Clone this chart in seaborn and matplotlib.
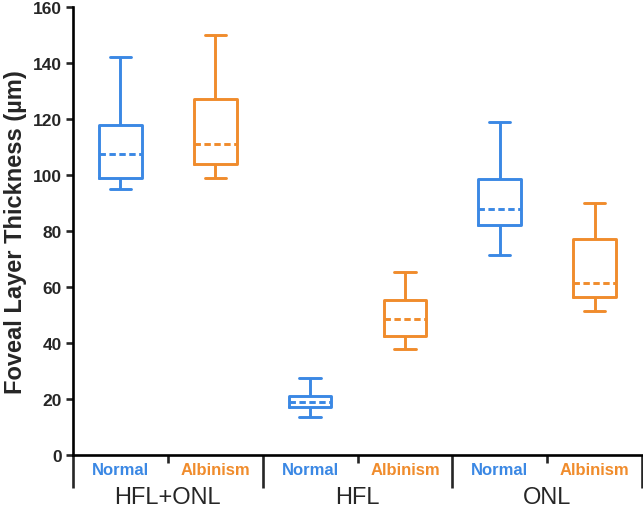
import numpy as np
import pandas as pd
import matplotlib
matplotlib.use("Agg")
import matplotlib.pyplot as plt
import seaborn as sns

LAYERS = ["HFL+ONL", "HFL", "ONL"]
GROUPS = ["Normal", "Albinism"]
COLORS = {"Normal": "#3b88e4", "Albinism": "#f08c2c"}

# five-number summaries: low whisker, Q1, median, Q3, high whisker
normal_stats = [
    [95.0, 99.0, 107.5, 118.0, 142.0],
    [13.5, 17.0, 19.0, 21.0, 27.5],
    [71.5, 82.0, 88.0, 98.5, 119.0],
]
albinism_stats = [
    [99.0, 104.0, 111.0, 127.0, 150.0],
    [38.0, 42.5, 48.5, 55.5, 65.5],
    [51.5, 56.5, 61.5, 77.0, 90.0],
]
y_ticks = [0, 20, 40, 60, 80, 100, 120, 140, 160]

rows = []
order = []
for i, layer in enumerate(LAYERS):
    for group, stats in (("Normal", normal_stats[i]), ("Albinism", albinism_stats[i])):
        key = f"{layer} {group}"
        order.append(key)
        for v in stats:
            rows.append({"key": key, "group": group, "value": v})
df = pd.DataFrame(rows)

sns.set_style("ticks")
plt.rcParams["font.family"] = ["Liberation Sans", "DejaVu Sans"]

fig = plt.figure(figsize=(6.43, 5.10), dpi=100)
ax = fig.add_axes([73 / 643, 54 / 510, 569 / 643, 448 / 510])

sns.boxplot(data=df, x="key", y="value", hue="group", order=order,
            palette=COLORS, dodge=False, fill=False, width=0.45,
            whis=(0, 100), linewidth=2.1, legend=False,
            medianprops={"linestyle": (0, (2.2, 1.2))}, ax=ax)

ax.set_xlim(-0.5, 5.5)
ax.set_ylim(0, 160)
ax.set_yticks(y_ticks)
ax.set_xlabel("")
ax.set_ylabel("Foveal Layer Thickness (µm)", fontsize=17,
              fontweight="bold", labelpad=4)

for side in ("top", "right"):
    ax.spines[side].set_visible(False)
for side in ("left", "bottom"):
    ax.spines[side].set_linewidth(1.9)
    ax.spines[side].set_color("black")

ax.tick_params(axis="y", length=5, width=1.9, labelsize=12.5, pad=3)
for lab in ax.get_yticklabels():
    lab.set_fontweight("bold")

# boundary ticks as major ticks, group labels as minor ticks
boundaries = np.arange(-0.5, 6.0, 1.0)
ax.set_xticks(boundaries)
ax.set_xticklabels([""] * len(boundaries))
ax.tick_params(axis="x", which="major", width=1.9, length=24, direction="out")
for i, t in enumerate(ax.xaxis.get_major_ticks()):
    if i % 2 == 1:
        t.tick1line.set_markersize(6)

ax.set_xticks(range(6), minor=True)
ax.set_xticklabels([GROUPS[i % 2] for i in range(6)], minor=True)
ax.tick_params(axis="x", which="minor", length=0, pad=5, labelsize=12)
for i, lab in enumerate(ax.get_xticklabels(minor=True)):
    lab.set_color(COLORS[GROUPS[i % 2]])
    lab.set_fontweight("bold")

trans = ax.get_xaxis_transform()
for i, layer in enumerate(LAYERS):
    ax.text(2 * i + 0.5, -0.094, layer, transform=trans, ha="center",
            va="center", fontsize=17)

fig.savefig("out.png", dpi=100)
